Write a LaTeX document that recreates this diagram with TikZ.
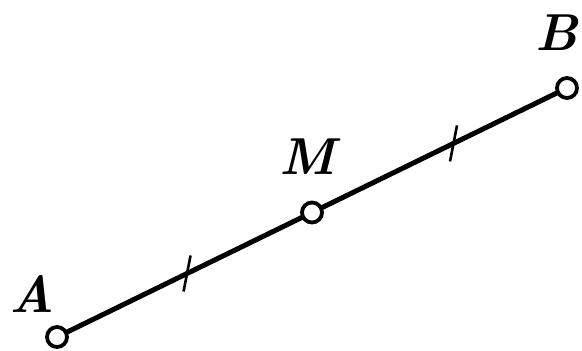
\documentclass[tikz,border=0pt]{standalone}
\usetikzlibrary{calc}
\begin{document}
\begin{tikzpicture}[x=1pt,y=1pt,
  pt/.style={circle,draw=black,fill=white,line width=3.8pt,inner sep=0pt,minimum size=20pt},
  lbl/.style={font=\fontsize{52}{56}\selectfont\bfseries\itshape,inner sep=0pt},
  seg/.style={line width=5pt},
  tick/.style={line width=2.6pt}]
\useasboundingbox (0,0) rectangle (582,351);
\coordinate (a) at (57,14);
\coordinate (m) at (312,138.5);
\coordinate (b) at (567,263);
\draw[seg] (a) -- (m) -- (b);
\coordinate (t1) at ($(a)!0.51!(m)$);
\coordinate (t2) at ($(m)!0.555!(b)$);
\draw[tick] ($(t1)+(3.5,18)$) -- ($(t1)+(-3.5,-18)$);
\draw[tick] ($(t2)+(3.5,18)$) -- ($(t2)+(-3.5,-18)$);
\node[pt] (A) at (a) {};
\node[pt] (M) at (m) {};
\node[pt] (B) at (b) {};
\node[lbl] (LA) at (32,57) {A};
\node[lbl] (LM) at (307,194) {M};
\node[lbl] (LB) at (557,318) {B};
\end{tikzpicture}
\end{document}
